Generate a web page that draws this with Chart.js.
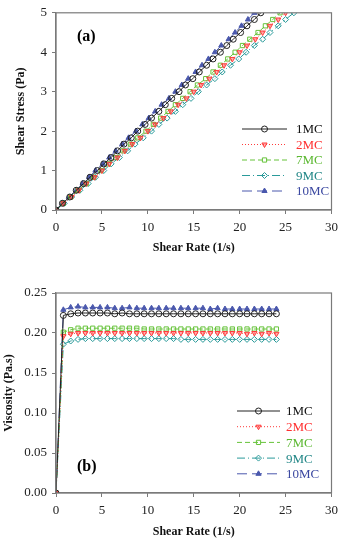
<!DOCTYPE html>
<html>
<head>
<meta charset="utf-8">
<script src="https://cdn.jsdelivr.net/npm/chart.js@4.4.1/dist/chart.umd.min.js"></script>
<style>
  body { margin: 0; background: #fff; }
  canvas { display: block; }
</style>
</head>
<body>
<canvas id="chartA" width="344" height="273"></canvas>
<canvas id="chartB" width="344" height="273"></canvas>
<script>
// sample names
const seriesNames = ['1MC', '2MC', '7MC', '9MC', '10MC'];

// (a) shear stress ramp (Pa), shared by all samples
const stress = [0, 0.17, 0.33, 0.5, 0.67, 0.83, 1, 1.17, 1.33, 1.5, 1.67, 1.83, 2, 2.17, 2.33, 2.5,
  2.67, 2.83, 3, 3.17, 3.33, 3.5, 3.67, 3.83, 4, 4.17, 4.33, 4.5, 4.67, 4.83, 5];

// (a) shear rate (1/s) read for each sample
const rate1MC = [0, 0.7, 1.5, 2.2, 3.0, 3.7, 4.5, 5.2, 6.0, 6.7, 7.4, 8.2, 8.9, 9.7, 10.4, 11.2,
  11.9, 12.6, 13.4, 14.1, 14.9, 15.6, 16.4, 17.1, 17.9, 18.6, 19.3, 20.1, 20.8, 21.6, 22.3];
const rate2MC = [0, 0.8, 1.7, 2.5, 3.3, 4.2, 5.0, 5.8, 6.7, 7.5, 8.3, 9.2, 10.0, 10.8, 11.7, 12.5,
  13.3, 14.2, 15.0, 15.8, 16.7, 17.5, 18.3, 19.2, 20.0, 20.8, 21.7, 22.5, 23.3, 24.2, 25.0];
const rate7MC = [0, 0.8, 1.6, 2.4, 3.3, 4.1, 4.9, 5.7, 6.5, 7.3, 8.1, 8.9, 9.8, 10.6, 11.4, 12.2,
  13.0, 13.8, 14.6, 15.4, 16.3, 17.1, 17.9, 18.7, 19.5, 20.3, 21.1, 22.0, 22.8, 23.6, 24.4];
const rate9MC = [0, 0.9, 1.7, 2.6, 3.5, 4.3, 5.2, 6.0, 6.9, 7.8, 8.6, 9.5, 10.4, 11.2, 12.1, 13.0,
  13.8, 14.7, 15.5, 16.4, 17.3, 18.1, 19.0, 19.9, 20.7, 21.6, 22.5, 23.3, 24.2, 25.0, 25.9];
const rate10MC = [0, 0.7, 1.4, 2.2, 2.9, 3.6, 4.3, 5.1, 5.8, 6.5, 7.2, 7.9, 8.7, 9.4, 10.1, 10.8,
  11.5, 12.3, 13.0, 13.7, 14.4, 15.2, 15.9, 16.6, 17.3, 18.0, 18.8, 19.5, 20.2, 20.9, 21.6];

// (b) shear rate (1/s), shared
const viscRate = [0, 0.8, 1.6, 2.4, 3.2, 4, 4.8, 5.6, 6.4, 7.2, 8, 8.8, 9.6, 10.4, 11.2, 12,
  12.8, 13.6, 14.4, 15.2, 16, 16.8, 17.6, 18.4, 19.2, 20, 20.8, 21.6, 22.4, 23.2, 24];

// (b) viscosity (Pa.s)
const visc1MC = [0, 0.222, 0.224, 0.225, 0.225, 0.225, 0.225, 0.225, 0.224, 0.225, 0.224, 0.224, 0.224, 0.224, 0.224, 0.224,
  0.224, 0.224, 0.224, 0.224, 0.224, 0.224, 0.224, 0.224, 0.224, 0.224, 0.224, 0.224, 0.224, 0.224, 0.224];
const visc2MC = [0, 0.196, 0.199, 0.200, 0.200, 0.200, 0.200, 0.200, 0.200, 0.200, 0.200, 0.200, 0.200, 0.200, 0.200, 0.200,
  0.200, 0.200, 0.200, 0.200, 0.200, 0.200, 0.200, 0.200, 0.200, 0.200, 0.199, 0.200, 0.199, 0.200, 0.199];
const visc7MC = [0, 0.201, 0.204, 0.206, 0.206, 0.206, 0.206, 0.206, 0.206, 0.206, 0.206, 0.206, 0.205, 0.205, 0.205, 0.205,
  0.205, 0.205, 0.205, 0.205, 0.205, 0.205, 0.205, 0.205, 0.205, 0.205, 0.205, 0.205, 0.205, 0.205, 0.205];
const visc9MC = [0, 0.186, 0.190, 0.192, 0.193, 0.193, 0.193, 0.193, 0.193, 0.193, 0.193, 0.193, 0.193, 0.193, 0.193, 0.193,
  0.193, 0.192, 0.192, 0.192, 0.192, 0.192, 0.192, 0.192, 0.192, 0.192, 0.192, 0.192, 0.192, 0.192, 0.192];
const visc10MC = [0, 0.229, 0.232, 0.233, 0.232, 0.232, 0.232, 0.232, 0.231, 0.231, 0.232, 0.231, 0.231, 0.231, 0.231, 0.231,
  0.231, 0.231, 0.231, 0.231, 0.231, 0.230, 0.231, 0.230, 0.230, 0.230, 0.230, 0.230, 0.230, 0.230, 0.230];

// tick values
const xTicks = [0, 5, 10, 15, 20, 25, 30];
const yTicksA = [0, 1, 2, 3, 4, 5];
const yTicksB = [0, 0.05, 0.10, 0.15, 0.20, 0.25];

const ratesA = [rate1MC, rate2MC, rate7MC, rate9MC, rate10MC];
const viscB = [visc1MC, visc2MC, visc7MC, visc9MC, visc10MC];

// look of each sample
const lineColors = ['#222222', '#ff3b3b', '#66c33a', '#2a9a9a', '#4a58ad'];
const textColors = ['#111111', '#ff3030', '#5cb832', '#238787', '#3a47a0'];
const fillColors = ['rgba(255,255,255,0)', 'rgba(255,70,70,0.45)', 'rgba(255,255,255,0)', 'rgba(255,255,255,0)', '#4a58ad'];
const dashes = [[], [1, 2], [5, 3], [8, 3, 1, 3], [10, 5]];
const markers = ['circle', 'triangle', 'rect', 'rectRot', 'triangle'];
const markerRot = [0, 180, 0, 0, 0];

const serif = '"Liberation Serif", "Times New Roman", serif';

function makeDatasets(xs, ys) {
    return seriesNames.map((name, i) => ({
        label: name,
        data: xs[i].map((x, k) => ({ x: x, y: ys[i][k] })),
        borderColor: lineColors[i],
        backgroundColor: fillColors[i],
        borderWidth: 1,
        borderDash: dashes[i],
        pointStyle: markers[i],
        pointRotation: markerRot[i],
        pointRadius: 3,
        pointBorderWidth: 1,
        pointBorderColor: lineColors[i],
        pointBackgroundColor: fillColors[i],
        tension: 0
    }));
}

// frame, legend and panel letter
const decorPlugin = {
    id: 'decor',
    afterDraw(chart, args, opts) {
        const ctx = chart.ctx;
        const a = chart.chartArea;
        ctx.save();
        ctx.strokeStyle = '#7a7a7a';
        ctx.lineWidth = 1.2;
        ctx.strokeRect(a.left, a.top, a.right - a.left, a.bottom - a.top);

        // legend
        chart.data.datasets.forEach((ds, i) => {
            const y = opts.legendY + i * opts.legendGap;
            ctx.strokeStyle = ds.borderColor;
            ctx.lineWidth = 1;
            ctx.setLineDash(ds.borderDash);
            ctx.beginPath();
            ctx.moveTo(opts.lineX1, y);
            ctx.lineTo(opts.lineX2, y);
            ctx.stroke();
            ctx.setLineDash([]);
            ctx.fillStyle = ds.pointBackgroundColor;
            ctx.strokeStyle = ds.pointBorderColor;
            Chart.helpers.drawPoint(ctx, {
                pointStyle: ds.pointStyle,
                rotation: ds.pointRotation,
                radius: 3,
                borderWidth: 1
            }, (opts.lineX1 + opts.lineX2) / 2, y);
            ctx.fillStyle = textColors[i];
            ctx.font = '13px ' + serif;
            ctx.textBaseline = 'middle';
            ctx.textAlign = 'left';
            ctx.fillText(ds.label, opts.textX, y + 1);
        });

        ctx.fillStyle = '#000';
        ctx.font = 'bold 16px ' + serif;
        ctx.textBaseline = 'middle';
        ctx.fillText(opts.panel, opts.panelX, opts.panelY);
        ctx.restore();
    }
};

function axisX(height, titlePad) {
    return {
        type: 'linear',
        min: 0, max: 30,
        afterBuildTicks: s => { s.ticks = xTicks.map(v => ({ value: v })); },
        afterFit: s => { s.height = height; },
        grid: { drawOnChartArea: false, drawTicks: true, tickLength: 4, color: '#7a7a7a' },
        border: { display: true, color: '#7a7a7a', width: 1.2 },
        ticks: { color: '#222', font: { family: serif, size: 13 }, padding: 6, maxRotation: 0 },
        title: { display: true, text: 'Shear Rate (1/s)', color: '#111',
            font: { family: serif, size: 12, weight: 'bold' }, padding: { top: 0, bottom: titlePad } }
    };
}

function axisY(min, max, ticks, fmt, title, titlePad) {
    return {
        type: 'linear',
        min: min, max: max,
        afterBuildTicks: s => { s.ticks = ticks.map(v => ({ value: v })); },
        afterFit: s => { s.width = 56; },
        grid: { drawOnChartArea: false, drawTicks: true, tickLength: 4, color: '#7a7a7a' },
        border: { display: true, color: '#7a7a7a', width: 1.2 },
        ticks: { color: '#222', font: { family: serif, size: 13 }, padding: 5, callback: fmt },
        title: { display: true, text: title, color: '#111',
            font: { family: serif, size: 12, weight: 'bold' }, padding: { top: titlePad, bottom: 0 } }
    };
}

function baseOptions(top, xHeight, xTitlePad, yAxis, decor) {
    return {
        responsive: false,
        animation: false,
        layout: { autoPadding: false, padding: { top: top, right: 11, bottom: 0, left: 0 } },
        plugins: { legend: { display: false }, tooltip: { enabled: false }, decor: decor },
        scales: { x: axisX(xHeight, xTitlePad), y: yAxis }
    };
}

new Chart(document.getElementById('chartA').getContext('2d'), {
    type: 'line',
    data: { datasets: makeDatasets(ratesA, seriesNames.map(() => stress)) },
    options: baseOptions(10, 63, 18,
        axisY(0, 5, yTicksA, v => String(v), 'Shear Stress (Pa)', 14),
        { legendY: 129, legendGap: 15.5, lineX1: 242, lineX2: 287, textX: 296, panel: '(a)', panelX: 77, panelY: 37 }),
    plugins: [decorPlugin]
});

new Chart(document.getElementById('chartB').getContext('2d'), {
    type: 'line',
    data: { datasets: makeDatasets(seriesNames.map(() => viscRate), viscB) },
    options: baseOptions(20, 53, 7,
        axisY(0, 0.25, yTicksB, v => v.toFixed(2), 'Viscosity (Pa.s)', 2),
        { legendY: 138, legendGap: 15.7, lineX1: 237, lineX2: 280, textX: 286, panel: '(b)', panelX: 77, panelY: 194 }),
    plugins: [decorPlugin]
});
</script>
</body>
</html>
